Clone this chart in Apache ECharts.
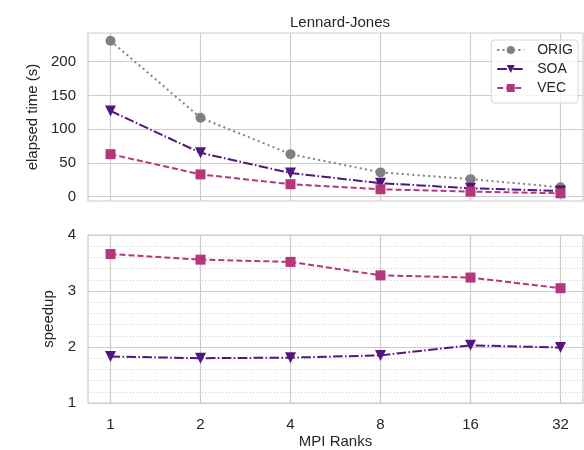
<!DOCTYPE html>
<html>
<head>
<meta charset="utf-8">
<script src="https://cdn.jsdelivr.net/npm/echarts@6/dist/echarts.min.js"></script>
<style>html,body{margin:0;padding:0;background:#fff;}#c{width:584px;height:450px;}</style>
</head>
<body>
<div id="c"></div>
<script>
const ranks = ['1', '2', '4', '8', '16', '32'];
const timeOrig = [231, 117, 63, 36, 26, 14];
const timeSoa = [127, 65, 35, 20, 12.5, 8.5];
const timeVec = [63, 33, 18.5, 11, 7.5, 5];
const speedupSoa = [1.83, 1.80, 1.81, 1.85, 2.03, 1.99];
const speedupVec = [3.66, 3.56, 3.52, 3.28, 3.24, 3.05];
const timeTicks = [0, 50, 100, 150, 200];

const font = 'Liberation Sans, Arial, sans-serif';
const txt = '#262626';
const grid = '#cccccc';
const cOrig = '#808080', cSoa = '#52157e', cVec = '#b5367a';

const pts = arr => arr.map((v, i) => [i, v]);
const xIdx = ranks.map((r, i) => i);

function xAxis(gi, showLabels) {
  return {
    type: 'value', gridIndex: gi, min: -0.25, max: 5.25,
    axisLine: { show: false },
    axisTick: { show: false, customValues: xIdx },
    axisLabel: { show: showLabels, customValues: xIdx, formatter: v => ranks[Math.round(v)],
      color: txt, fontSize: 15, fontFamily: font, margin: 14 },
    splitLine: { show: true, lineStyle: { color: grid, width: 1.2 } },
    name: showLabels ? 'MPI Ranks' : '', nameLocation: 'middle', nameGap: 31,
    nameTextStyle: { color: txt, fontSize: 15, fontFamily: font }
  };
}

const chart = echarts.init(document.getElementById('c'), null, { renderer: 'canvas' });
chart.setOption({
  animation: false,
  backgroundColor: '#fff',
  title: { text: 'Lennard-Jones', left: 335, textAlign: 'center', top: 10,
    textStyle: { color: txt, fontSize: 15, fontWeight: 'normal', fontFamily: font } },
  legend: {
    data: ['ORIG', 'SOA', 'VEC'], orient: 'vertical', right: 6, top: 40,
    itemWidth: 27, itemHeight: 10, itemGap: 5, padding: [3, 5, 8, 5],
    borderColor: '#d6d6d6', borderWidth: 1, borderRadius: 3, backgroundColor: 'rgba(255,255,255,0.8)',
    textStyle: { color: txt, fontSize: 14, fontFamily: font, padding: [0, 0, 0, 8] }
  },
  grid: [
    { left: 88, top: 33, width: 495, height: 168, show: true, borderColor: grid, borderWidth: 1.2, backgroundColor: 'transparent' },
    { left: 88, top: 235, width: 495, height: 168, show: true, borderColor: grid, borderWidth: 1.2, backgroundColor: 'transparent' }
  ],
  xAxis: [xAxis(0, false), xAxis(1, true)],
  yAxis: [
    { type: 'value', gridIndex: 0, min: -6.4, max: 242.5,
      axisLine: { show: false },
      axisTick: { show: false, customValues: timeTicks },
      axisLabel: { customValues: timeTicks, color: txt, fontSize: 15, fontFamily: font, margin: 12 },
      splitLine: { show: true, lineStyle: { color: grid, width: 1.2 } },
      name: 'elapsed time (s)', nameLocation: 'middle', nameGap: 42,
      nameTextStyle: { color: txt, fontSize: 15, fontFamily: font } },
    { type: 'value', gridIndex: 1, min: 1, max: 4, interval: 1,
      axisLine: { show: false },
      axisTick: { show: false },
      axisLabel: { color: txt, fontSize: 15, fontFamily: font, margin: 12 },
      splitLine: { show: true, lineStyle: { color: grid, width: 1.2 } },
      minorTick: { show: false, splitNumber: 5 },
      minorSplitLine: { show: true, lineStyle: { color: '#cfcfcf', width: 1, type: [1, 2] } },
      name: 'speedup', nameLocation: 'middle', nameGap: 23,
      nameTextStyle: { color: txt, fontSize: 15, fontFamily: font } }
  ],
  series: [
    { name: 'ORIG', type: 'line', xAxisIndex: 0, yAxisIndex: 0, data: pts(timeOrig),
      symbol: 'circle', symbolSize: 10, itemStyle: { color: cOrig },
      lineStyle: { color: cOrig, width: 2, type: [2, 3.3] } },
    { name: 'SOA', type: 'line', xAxisIndex: 0, yAxisIndex: 0, data: pts(timeSoa),
      symbol: 'triangle', symbolRotate: 180, symbolSize: 11, itemStyle: { color: cSoa },
      lineStyle: { color: cSoa, width: 2, type: [9.6, 2.4, 1.5, 2.4] } },
    { name: 'VEC', type: 'line', xAxisIndex: 0, yAxisIndex: 0, data: pts(timeVec),
      symbol: 'rect', symbolSize: 10, itemStyle: { color: cVec },
      lineStyle: { color: cVec, width: 2, type: [6, 3] } },
    { name: 'SOA', type: 'line', xAxisIndex: 1, yAxisIndex: 1, data: pts(speedupSoa),
      symbol: 'triangle', symbolRotate: 180, symbolSize: 11, itemStyle: { color: cSoa },
      lineStyle: { color: cSoa, width: 2, type: [9.6, 2.4, 1.5, 2.4] } },
    { name: 'VEC', type: 'line', xAxisIndex: 1, yAxisIndex: 1, data: pts(speedupVec),
      symbol: 'rect', symbolSize: 10, itemStyle: { color: cVec },
      lineStyle: { color: cVec, width: 2, type: [6, 3] } }
  ]
});
</script>
</body>
</html>
